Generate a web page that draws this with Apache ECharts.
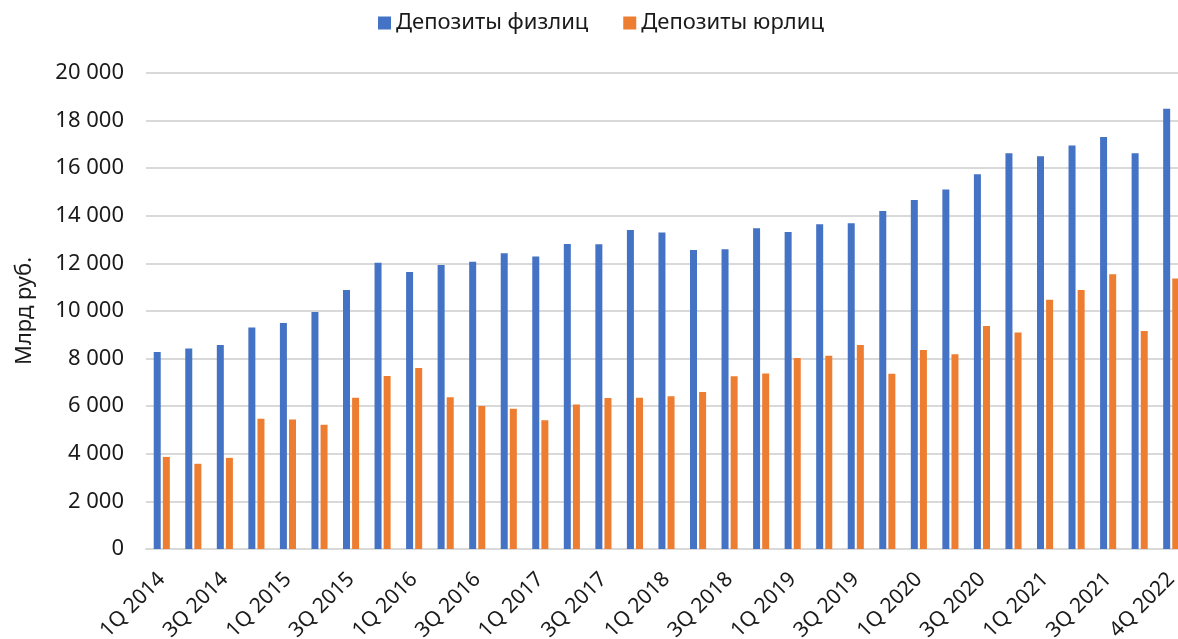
<!DOCTYPE html>
<html>
<head>
<meta charset="utf-8">
<script src="https://cdn.jsdelivr.net/npm/echarts@6/dist/echarts.min.js"></script>
<style>
  html, body { margin: 0; padding: 0; background: #fff; }
  #chart { width: 1178px; height: 639px; }
</style>
</head>
<body>
<div id="chart"></div>
<script>
// quarters, every other one gets a label
const quarters = [
  "1Q 2014", "2Q 2014", "3Q 2014", "4Q 2014",
  "1Q 2015", "2Q 2015", "3Q 2015", "4Q 2015",
  "1Q 2016", "2Q 2016", "3Q 2016", "4Q 2016",
  "1Q 2017", "2Q 2017", "3Q 2017", "4Q 2017",
  "1Q 2018", "2Q 2018", "3Q 2018", "4Q 2018",
  "1Q 2019", "2Q 2019", "3Q 2019", "4Q 2019",
  "1Q 2020", "2Q 2020", "3Q 2020", "4Q 2020",
  "1Q 2021", "2Q 2021", "3Q 2021", "4Q 2021",
  "4Q 2022"
];

// млрд руб.
const depositsPersons = [
  8280, 8420, 8570, 9310, 9500, 9960, 10880, 12030, 11640, 11930, 12070,
  12430, 12290, 12810, 12800, 13400, 13300, 12560, 12590, 13480, 13320,
  13650, 13690, 14200, 14660, 15110, 15750, 16630, 16500, 16950, 17310,
  16630, 18500
];
const depositsCompanies = [
  3870, 3580, 3830, 5470, 5440, 5220, 6360, 7270, 7610, 6380, 6010,
  5890, 5410, 6070, 6340, 6360, 6420, 6600, 7260, 7370, 8030,
  8120, 8570, 7360, 8360, 8180, 9370, 9100, 10470, 10880, 11540,
  9160, 11370
];

const seriesNames = ["Депозиты физлиц", "Депозиты юрлиц"];
const colors = ["#4472C4", "#ED7D31"];

const font = "'Noto Sans', sans-serif";
const textColor = "#1a1a1a";

function spaced(v) {
  return String(v).replace(/\B(?=(\d{3})+(?!\d))/g, " ");
}

const chart = echarts.init(document.getElementById("chart"));
chart.setOption({
  animation: false,
  color: colors,
  textStyle: { fontFamily: font, color: textColor },
  legend: {
    top: 7,
    left: 373,
    itemWidth: 13,
    itemHeight: 13,
    itemGap: 35,
    icon: "rect",
    textStyle: { fontSize: 22, color: textColor, fontFamily: font }
  },
  grid: {
    left: 146, top: 73, width: 1041, bottom: 90,
    containLabel: false, outerBoundsMode: "none"
  },
  xAxis: {
    type: "category",
    data: quarters,
    axisTick: { show: false },
    axisLine: { lineStyle: { color: "#d9d9d9", width: 2 } },
    axisLabel: {
      interval: 1,
      rotate: 45,
      margin: 27,
      fontSize: 21,
      color: textColor,
      fontFamily: font
    }
  },
  yAxis: {
    type: "value",
    min: 0,
    max: 20000,
    interval: 2000,
    name: "Млрд руб.",
    nameLocation: "middle",
    nameGap: 110,
    nameTextStyle: { fontSize: 22, color: textColor, fontFamily: font },
    axisLine: { show: false },
    axisTick: { show: false },
    axisLabel: {
      formatter: spaced,
      fontSize: 22,
      margin: 22,
      color: textColor,
      fontFamily: font
    },
    splitLine: { lineStyle: { color: "#d9d9d9", width: 2 } }
  },
  series: [
    {
      name: seriesNames[0],
      type: "bar",
      data: depositsPersons,
      barWidth: 7,
      barGap: "30%"
    },
    {
      name: seriesNames[1],
      type: "bar",
      data: depositsCompanies,
      barWidth: 7,
      barGap: "30%"
    }
  ]
});
</script>
</body>
</html>
